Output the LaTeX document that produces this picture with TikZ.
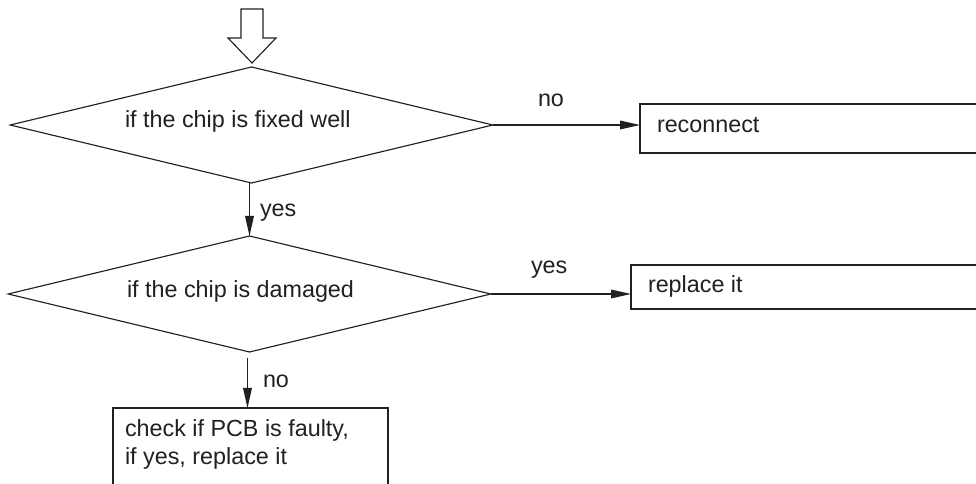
\documentclass[tikz,border=0pt]{standalone}
\usepackage{fontspec}
\setmainfont{Liberation Sans}
\usetikzlibrary{shapes.geometric,arrows.meta,calc}
\definecolor{ink}{RGB}{35,31,32}
\begin{document}
\begin{tikzpicture}[x=0.75pt,y=-0.75pt,
  every node/.style={text=ink},
  dia/.style={draw=ink,diamond,line width=0.85pt,inner sep=0pt,outer sep=0pt,minimum width=362pt,minimum height=87pt},
  box/.style={draw=ink,rectangle,line width=0.9pt,inner sep=0pt,outer sep=0pt,anchor=north west},
  txt/.style={inner sep=0pt,outer sep=0pt,anchor=base west,font=\fontsize{17.5}{21}\selectfont},
  arr/.style={draw=ink,line width=0.85pt,-{Triangle[length=15pt,width=6.5pt]}}
]
\useasboundingbox (0,0) rectangle (976,484);
\fill[white] (0,0) rectangle (976,484);
% hollow entry arrow
\draw[ink,line width=0.85pt,line join=miter] (241,9) -- (263,9) -- (263,38) -- (276,38) -- (252,63) -- (228,38) -- (241,38) -- cycle;
% decisions
\node[dia] (d1) at (251.5,125) {};
\node[dia] (d2) at (249.5,294) {};
\node[txt] (t1) at (125,128) {if the chip is fixed well};
\node[txt] (t2) at (127,298) {if the chip is damaged};
% boxes
\node[box,minimum width=262.5pt,minimum height=36.75pt] (b1) at (640,104) {};
\node[box,minimum width=269pt,minimum height=33pt] (b2) at (631,265) {};
\node[box,line width=1.4pt,minimum width=206.25pt,minimum height=69pt] (b3) at (113,408) {};
\node[txt] (bt1) at (657,133) {reconnect};
\node[txt] (bt2) at (648,293) {replace it};
\node[txt] (bt3a) at (125,437) {check if PCB is faulty,};
\node[txt] (bt3b) at (125,465) {if yes, replace it};
% connectors
\draw[arr] (d1.east) -- (d1.east -| b1.west);
\draw[arr] (d2.east) -- (d2.east -| b2.west);
\draw[arr] ([xshift=-1.5]d1.south) -- ([xshift=-1.5]d1.south |- d2.north);
\draw[arr,shorten <=4.5pt] ([xshift=-1.5]d2.south) -- ([xshift=-1.5]d2.south |- b3.north);
% labels
\node[txt] (l1) at (538,107) {no};
\node[txt] (l2) at (531,274) {yes};
\node[txt] (l3) at (260,217) {yes};
\node[txt] (l4) at (263,388) {no};
\end{tikzpicture}
\end{document}
